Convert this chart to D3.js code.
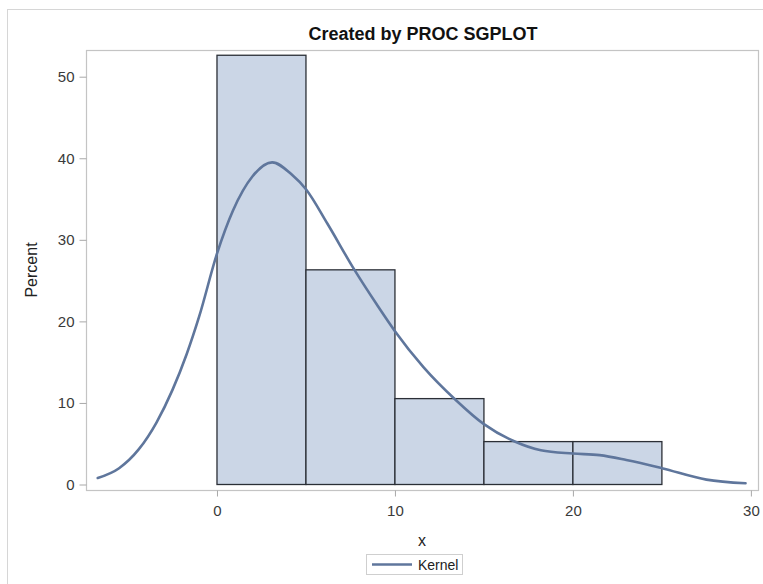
<!DOCTYPE html>
<html>
<head>
<meta charset="utf-8">
<script src="https://cdn.jsdelivr.net/npm/d3@7"></script>
<style>
  body { margin: 0; background: #fff; }
  text { font-family: Arial, "Liberation Sans", sans-serif; }
</style>
</head>
<body>
<svg></svg>
<script>
// histogram bins (x start, x end) and percent
var binStart = [0, 5, 10, 15, 20];
var binEnd = [5, 10, 15, 20, 25];
var percent = [52.63, 26.32, 10.53, 5.26, 5.26];

// kernel density curve
var kernelX = [-6.7, -5.5, -4.4, -3.4, -2.5, -1.7, -1.0, 0, 0.9, 2.0, 3.1, 4.2, 5.0, 6.2, 7.7, 9.0, 10.0, 11.6, 13.4, 15.0, 16.7, 18.2, 20.0, 21.5, 23.0, 25.0, 27.5, 29.7];
var kernelY = [0.8, 2.0, 4.3, 7.6, 11.6, 16.0, 20.6, 28.3, 33.6, 37.8, 39.5, 38.0, 36.2, 32.0, 26.4, 22.0, 18.8, 14.4, 10.4, 7.4, 5.3, 4.2, 3.8, 3.6, 3.0, 2.0, 0.6, 0.15];

var xTicks = [0, 10, 20, 30];
var yTicks = [0, 10, 20, 30, 40, 50];

var svgWidth = 763;
var svgHeight = 584;

var plotLeft = 86, plotRight = 758, plotTop = 50, plotBottom = 490;

var graph = d3.select('svg')
    .attr("width", svgWidth)
    .attr("height", svgHeight);

// outer border
graph.append("rect")
    .attr("x", 7.5).attr("y", 9.5)
    .attr("width", 800).attr("height", 600)
    .attr("fill", "none")
    .attr("stroke", "#d6d6d6");

var xScale = d3.scaleLinear()
    .domain([-7.36, 30.4])
    .range([plotLeft, plotRight]);

var yScale = d3.scaleLinear()
    .domain([0, 50])
    .range([484.5, 76.7]);

graph.append("text")
    .attr("x", 423)
    .attr("y", 40)
    .attr("text-anchor", "middle")
    .style("font-size", "18px")
    .style("font-weight", "bold")
    .attr("fill", "#111")
    .text("Created by PROC SGPLOT");

// bars
var bins = binStart.map(function(d, i){
    return {x0: d, x1: binEnd[i], p: percent[i]};
});

graph.append("g")
    .selectAll("rect")
    .data(bins)
    .enter()
    .append("rect")
      .attr("x", function(d){ return xScale(d.x0); })
      .attr("y", function(d){ return yScale(d.p); })
      .attr("width", function(d){ return xScale(d.x1) - xScale(d.x0); })
      .attr("height", function(d){ return yScale(0) - yScale(d.p); })
      .attr("fill", "#cbd6e6")
      .attr("stroke", "#2b2f36")
      .attr("stroke-width", 1.3);

// kernel line
var kernel = kernelX.map(function(d, i){ return [d, kernelY[i]]; });

var line = d3.line()
    .curve(d3.curveMonotoneX)
    .x(function(d){ return xScale(d[0]); })
    .y(function(d){ return yScale(d[1]); });

graph.append("path")
    .datum(kernel)
    .attr("fill", "none")
    .attr("stroke", "#5f769c")
    .attr("stroke-width", 2.6)
    .attr("stroke-linecap", "round")
    .attr("d", line);

// plot frame
graph.append("rect")
    .attr("x", plotLeft + 0.5).attr("y", plotTop + 0.5)
    .attr("width", plotRight - plotLeft).attr("height", plotBottom - plotTop)
    .attr("fill", "none")
    .attr("stroke", "#c4c4c4")
    .attr("stroke-width", 1.2);

var xAxis = d3.axisBottom(xScale)
    .tickValues(xTicks)
    .tickSize(6)
    .tickPadding(9)
    .tickFormat(d3.format("d"));

var gx = graph.append("g")
    .attr("transform", "translate(0," + (plotBottom + 0.5) + ")")
    .call(xAxis);

var yAxis = d3.axisLeft(yScale)
    .tickValues(yTicks)
    .tickSize(7)
    .tickPadding(5)
    .tickFormat(d3.format("d"));

var gy = graph.append("g")
    .attr("transform", "translate(" + (plotLeft + 0.5) + ",0)")
    .call(yAxis);

[gx, gy].forEach(function(g){
    g.select(".domain").remove();
    g.selectAll(".tick line").attr("stroke", "#a8a8a8");
    g.selectAll(".tick text")
        .attr("fill", "#3a3a3a")
        .style("font-size", "15px")
        .style("font-family", "Arial, 'Liberation Sans', sans-serif");
});

graph.append("text")
    .attr("x", (plotLeft + plotRight) / 2)
    .attr("y", 546)
    .attr("text-anchor", "middle")
    .style("font-size", "16px")
    .attr("fill", "#222")
    .text("x");

graph.append("text")
    .attr("transform", "translate(37," + (plotTop + plotBottom) / 2 + ") rotate(-90)")
    .attr("text-anchor", "middle")
    .style("font-size", "16px")
    .attr("fill", "#222")
    .text("Percent");

// legend
var legend = graph.append("g")
    .attr("transform", "translate(366,554)");

legend.append("rect")
    .attr("x", 0.5).attr("y", 0.5)
    .attr("width", 96).attr("height", 20)
    .attr("fill", "#fff")
    .attr("stroke", "#cfcfcf");

legend.append("line")
    .attr("x1", 6).attr("x2", 46)
    .attr("y1", 10.5).attr("y2", 10.5)
    .attr("stroke", "#5f769c")
    .attr("stroke-width", 2.6);

legend.append("text")
    .attr("x", 52)
    .attr("y", 15.5)
    .style("font-size", "14px")
    .attr("fill", "#222")
    .text("Kernel");
</script>
</body>
</html>
